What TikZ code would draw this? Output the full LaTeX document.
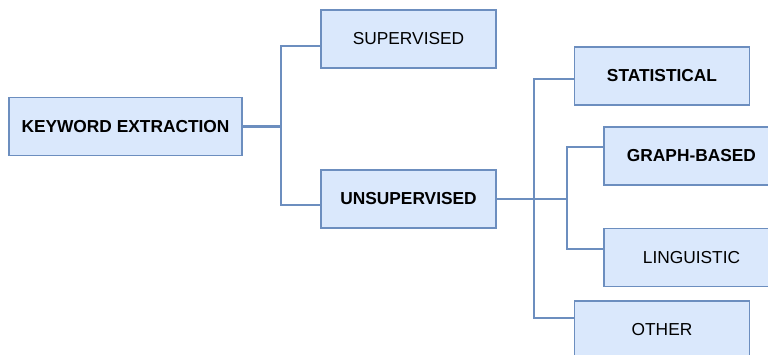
\documentclass[tikz,border=0pt]{standalone}
\usepackage{fontspec}
\setmainfont{Liberation Sans}
\definecolor{boxfill}{HTML}{DAE8FC}
\definecolor{boxline}{HTML}{6C8EBF}

\begin{document}
\begin{tikzpicture}[x=0.75pt, y=-0.75pt,
  catbox/.style={draw=boxline, fill=boxfill, line width=0.9pt, minimum width=131.25pt, minimum height=43.5pt, inner sep=0pt, font=\fontsize{13}{15}\selectfont},
  link/.style={draw=boxline, line width=2pt}]
\useasboundingbox (0,0) rectangle (768,354);
\clip (0,0) rectangle (768,354);
\node[catbox, minimum width=174.75pt, font=\fontsize{13}{15}\selectfont\bfseries] (ke) at (125.5,126.5) {KEYWORD EXTRACTION};
\node[catbox] (sup) at (408.5,39) {SUPERVISED};
\node[catbox, font=\fontsize{13}{15}\selectfont\bfseries] (unsup) at (408.5,199) {UNSUPERVISED};
\node[catbox, font=\fontsize{13}{15}\selectfont\bfseries] (stat) at (662,76) {STATISTICAL};
\node[catbox, font=\fontsize{13}{15}\selectfont\bfseries] (graph) at (691.5,156) {GRAPH-BASED};
\node[catbox] (ling) at (691.5,257.5) {LINGUISTIC};
\node[catbox] (other) at (662,330) {OTHER};
% tree lines
\coordinate (busA) at (281,126.5);
\coordinate (busB) at (534,199);
\coordinate (busC) at (567,199);
\draw[link] (ke.east) -- (busA);
\draw[link] (busA) |- ([yshift=-5.25pt]sup.west);
\draw[link] (busA) |- ([yshift=-4.5pt]unsup.west);
\draw[link] (unsup.east) -- (busC);
\draw[link] (busB) |- ([yshift=-2.25pt]stat.west);
\draw[link] (busB) |- ([yshift=9pt]other.west);
\draw[link] (busC) |- ([yshift=6.75pt]graph.west);
\draw[link] (busC) |- ([yshift=6.4pt]ling.west);
\end{tikzpicture}
\end{document}
